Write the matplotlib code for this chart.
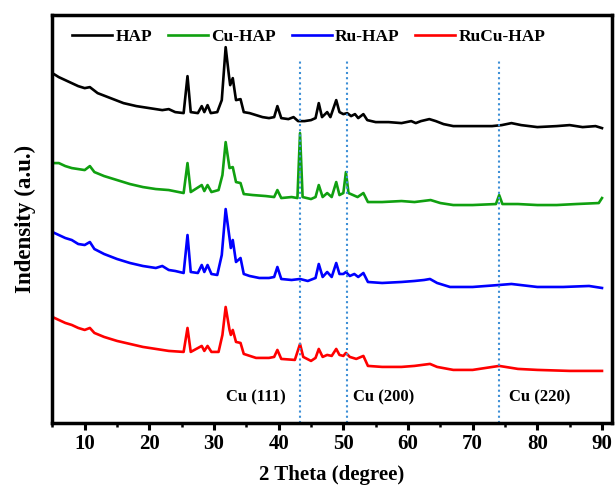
import numpy as np
import matplotlib
matplotlib.use("Agg")
import matplotlib.pyplot as plt
from matplotlib.ticker import MultipleLocator

plt.rcParams['font.family'] = ['Liberation Serif', 'DejaVu Serif']
plt.rcParams['font.weight'] = 'bold'

# readings: 2 theta and trace level (picture rows, top = small)
hap_x = [5, 6, 7, 8, 9, 10, 10.8, 12, 14, 16, 18, 20, 22, 23, 24, 25.3, 25.9, 26.4, 27.5, 28.1,
         28.5, 29.0, 29.5, 30.5, 31.2, 31.8, 32.3, 32.5, 32.9, 33.4, 34.1, 34.6, 35.5, 36.5, 37.5,
         38.5, 39.3, 39.8, 40.4, 41.5, 42.3, 43.0, 44.0, 45.0, 45.7, 46.2, 46.7, 47.5, 48.0, 48.9,
         49.4, 50.0, 50.6, 51.2, 51.8, 52.3, 53.1, 53.7, 55, 57, 59, 60.5, 61.2, 62, 63.3, 64.3,
         65.5, 67, 70, 73, 74.5, 76, 77.5, 80, 83, 85, 87, 89, 90]
hap_r = [73, 77, 80, 83, 86, 88, 87, 93, 98, 103, 106, 108, 110, 109, 112, 113, 76, 112, 113, 106,
         112, 105, 113, 112, 100, 47, 75, 85, 78, 100, 99, 112, 113, 115, 117,
         118, 117, 106, 118, 119, 117, 121, 121, 120, 118, 103, 117, 112, 117, 100,
         112, 114, 113, 116, 114, 118, 114, 120, 122, 122, 123, 121, 123, 121, 119, 121,
         124, 126, 126, 126, 125, 123, 125, 127, 126, 125, 127, 126, 128]

cu_x = [5, 6, 7, 8, 9, 10, 10.8, 11.5, 13, 15, 17, 19, 21, 23, 25.3, 25.9, 26.4, 28.1, 28.5, 29.0,
        29.6, 30.7, 31.3, 31.8, 32.4, 32.9, 33.4, 34.1, 34.6, 36, 38, 39.3, 39.8, 40.4, 42, 42.9,
        43.3, 43.7, 45, 45.7, 46.2, 46.8, 47.5, 48.2, 48.9, 49.4, 50.0, 50.4, 50.8, 51.5, 52.2,
        53.1, 53.8, 56, 59, 61, 63.5, 65, 67, 70, 73.6, 74.1, 74.6, 77, 80, 83, 86, 89.5, 90]
cu_r = [163, 163, 166, 168, 169, 170, 166, 172, 176, 180, 184, 187, 189, 190, 193, 163, 192, 185, 191, 185,
        192, 190, 175, 142, 168, 167, 182, 183, 194, 195, 196, 197, 190, 198, 197, 198,
        133, 197, 199, 197, 185, 197, 193, 197, 182, 195, 193, 172, 193, 195, 197,
        193, 202, 202, 201, 202, 200, 203, 205, 205, 204, 195, 204, 204, 205, 205, 204, 203, 198]

ru_x = [5, 6, 7, 8, 9, 10, 10.8, 11.5, 13, 15, 17, 19, 21, 22, 23, 24, 25.3, 25.9, 26.4, 27.5,
        28.1, 28.5, 29.0, 29.6, 30.5, 31.2, 31.8, 32.4, 32.6, 32.9, 33.4, 34.1, 34.6, 35.5, 37,
        38.5, 39.3, 39.8, 40.4, 42, 43.3, 44.5, 45.7, 46.2, 46.8, 47.5, 48.2, 48.9, 49.4, 50.0,
        50.4, 51.0, 51.7, 52.3, 53.1, 53.8, 56, 59, 61, 62.5, 63.4, 64.5, 66.5, 70, 74.1, 76,
        80, 84, 88, 90]
ru_r = [232, 235, 238, 240, 244, 245, 242, 249, 254, 259, 263, 266, 268, 266, 270, 271, 273, 235, 272, 273,
        265, 272, 265, 274, 275, 255, 209, 238, 248, 240, 262, 258, 274, 276, 278,
        278, 277, 267, 279, 280, 279, 281, 278, 264, 277, 272, 277, 263, 274, 274,
        272, 276, 274, 277, 273, 282, 283, 282, 281, 280, 279, 283, 287, 287, 285, 284,
        287, 287, 286, 288]

rucu_x = [5, 6, 7, 8, 9, 10, 10.8, 11.5, 13, 15, 17, 19, 21, 23, 25.3, 25.9, 26.4, 28.1, 28.5, 29.0,
          29.6, 30.7, 31.3, 31.8, 32.4, 32.6, 32.9, 33.4, 34.1, 34.6, 36.5, 38.5, 39.3, 39.8, 40.4,
          42.5, 43.3, 43.8, 45, 45.7, 46.2, 46.8, 47.5, 48.2, 48.9, 49.4, 50.0, 50.4, 51.0, 52,
          53.1, 53.8, 56, 59, 61, 63.4, 64.5, 67, 70, 74.1, 77, 80, 85, 90]
rucu_r = [317, 320, 323, 325, 328, 330, 328, 333, 337, 341, 344, 347, 349, 351, 352, 328, 352, 346, 351, 346,
          352, 352, 335, 307, 330, 335, 330, 342, 343, 354, 358, 358, 357, 350, 359,
          360, 344, 357, 361, 358, 349, 357, 355, 356, 349, 355, 356, 353, 357, 359,
          356, 366, 367, 367, 366, 364, 367, 370, 370, 366, 369, 370, 371, 371]

names = ['HAP', 'Cu-HAP', 'Ru-HAP', 'RuCu-HAP']
colors = ['black', '#10a010', '#0000ff', '#ff0000']
cu_lines = [43.3, 50.5, 74.1]
cu_labels = ['Cu (111)', 'Cu (200)', 'Cu (220)']
cu_label_x = [36.5, 56.2, 80.4]

fig = plt.figure(figsize=(6.16, 4.90), dpi=100)
ax = fig.add_axes([0.085, 0.137, 0.908, 0.832])

series = [(hap_x, hap_r), (cu_x, cu_r), (ru_x, ru_r), (rucu_x, rucu_r)]
for (x, r), name, c in zip(series, names, colors):
    # convert picture rows into stacked intensity
    ax.plot(x, 430 - np.array(r), color=c, lw=1.9, label=name)

for xv in cu_lines:
    ax.vlines(xv, 7, 370, colors='#3d8fd6', linestyles=(0, (1, 1.5)), lw=1.5)
for xv, t in zip(cu_label_x, cu_labels):
    ax.text(xv, 32, t, ha='center', va='center', fontsize=12, fontweight='bold')

ax.set_xlim(5, 91.5)
ax.set_ylim(7, 415)
ax.set_yticks([])
ax.xaxis.set_minor_locator(MultipleLocator(5))
ax.set_xticks(range(10, 91, 10))
ax.tick_params(axis='x', which='major', direction='out', length=5, width=2.2, labelsize=15, pad=3)
ax.tick_params(axis='x', which='minor', direction='out', length=3, width=1.8)
for s in ax.spines.values():
    s.set_linewidth(2.5)
for lab in ax.get_xticklabels():
    lab.set_fontweight('bold')

ax.set_xlabel('2 Theta (degree)', fontsize=15, fontweight='bold', labelpad=8)
ax.set_ylabel('Indensity (a.u.)', fontsize=16.5, fontweight='bold', labelpad=12)

ax.legend(loc='upper left', bbox_to_anchor=(0.008, 1.005), ncol=4, frameon=False,
          handlelength=2.3, columnspacing=0.9, handletextpad=0.2,
          prop={'size': 12.5, 'weight': 'bold'})

fig.savefig('out.png', dpi=100)
